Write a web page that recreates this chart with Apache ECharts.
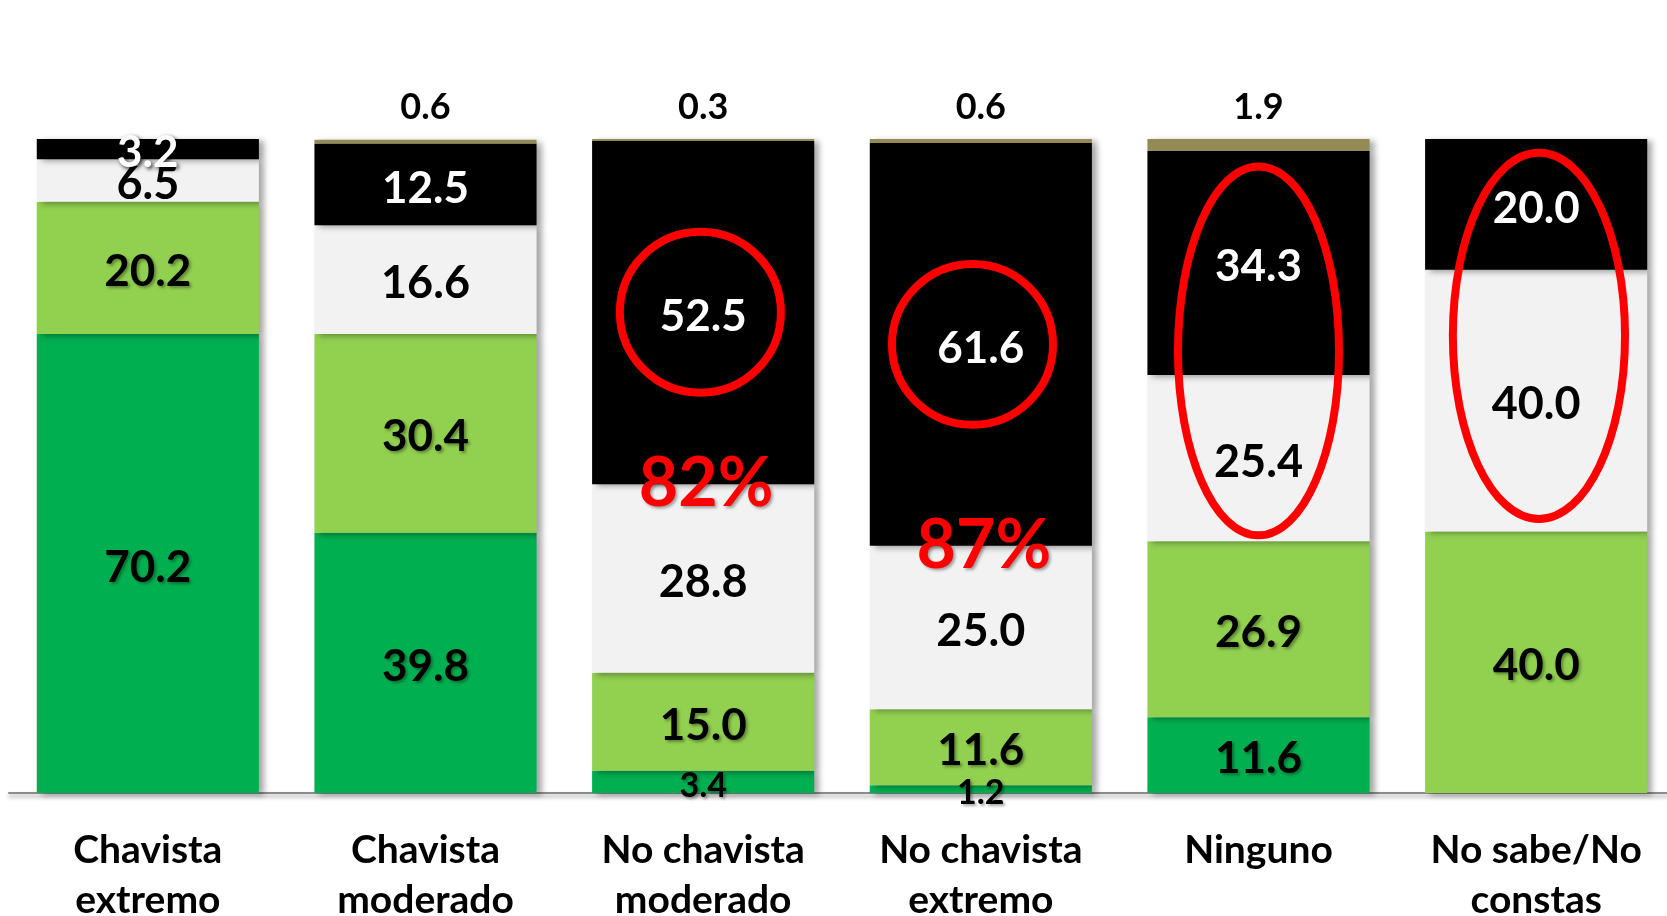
<!DOCTYPE html>
<html>
<head>
<meta charset="utf-8">
<title>Chavismo</title>
<script src="https://cdn.jsdelivr.net/npm/echarts@6/dist/echarts.min.js"></script>
<style>
  html, body { margin: 0; padding: 0; background: #fff; }
  #main { width: 1667px; height: 916px; }
</style>
</head>
<body>
<div id="main"></div>
<script>
  var categorias = ['Chavista\nextremo', 'Chavista\nmoderado', 'No chavista\nmoderado', 'No chavista\nextremo', 'Ninguno', 'No sabe/No\nconstas'];

  // segmentos de abajo hacia arriba
  var verdeOscuro = [70.2, 39.8, 3.4, 1.2, 11.6, 0];
  var verdeClaro  = [20.2, 30.4, 15.0, 11.6, 26.9, 40.0];
  var gris        = [6.5, 16.6, 28.8, 25.0, 25.4, 40.0];
  var negro       = [3.2, 12.5, 52.5, 61.6, 34.3, 20.0];
  var oliva       = [0, 0.6, 0.3, 0.6, 1.9, 0];

  // textos rojos y marcas de resaltado
  var porcentajes = [
    { cat: 2, texto: '82%' },
    { cat: 3, texto: '87%' }
  ];
  var resaltados = [
    { cat: 2, centro: 73.5, dx: -0.01, rx: 0.29, ry: 12.3 },
    { cat: 3, centro: 68.6, dx: -0.03, rx: 0.29, ry: 12.3 },
    { cat: 4, centro: 67.6, dx: 0, rx: 0.29, ry: 28.2 },
    { cat: 5, centro: 69.9, dx: 0.01, rx: 0.31, ry: 28.0 }
  ];

  var fuente = 'Lato';
  var sombraBarra = {
    shadowColor: 'rgba(0,0,0,0.35)',
    shadowBlur: 6,
    shadowOffsetX: 5,
    shadowOffsetY: 2
  };

  function fmt(p) {
    return p.value ? p.value.toFixed(1) : '';
  }

  function serie(nombre, datos, color, etiqueta, chica) {
    return {
      name: nombre,
      type: 'bar',
      stack: 'total',
      barCategoryGap: '20%',
      data: datos.map(function (v) {
        if (chica && v > 0 && v < 5) {
          return { value: v, label: { fontSize: 34 } };
        }
        return v;
      }),
      itemStyle: Object.assign({ color: color }, sombraBarra),
      label: Object.assign({
        show: true,
        position: 'inside',
        offset: [0, 4],
        formatter: fmt,
        fontFamily: fuente,
        fontSize: 44
      }, etiqueta)
    };
  }

  var etiquetaNegra = {
    color: '#000',
    fontWeight: 'bold',
    textShadowColor: 'rgba(0,0,0,0.35)',
    textShadowBlur: 3,
    textShadowOffsetX: 2,
    textShadowOffsetY: 2
  };

  var myChart = echarts.init(document.getElementById('main'));
  myChart.setOption({
    animation: false,
    grid: { left: 9, top: 139, width: 1666, height: 654, containLabel: false, outerBoundsMode: 'none' },
    xAxis: {
      type: 'category',
      data: categorias,
      axisTick: { show: false },
      axisLine: {
        lineStyle: {
          color: '#8c8c8c',
          width: 2,
          shadowColor: 'rgba(0,0,0,0.4)',
          shadowBlur: 4,
          shadowOffsetY: 3
        }
      },
      axisLabel: {
        interval: 0,
        margin: 32,
        color: '#000',
        fontFamily: fuente,
        fontWeight: 'bold',
        fontSize: 39,
        lineHeight: 50
      }
    },
    yAxis: { type: 'value', min: 0, max: 100, show: false },
    series: [
      serie('s1', verdeOscuro, '#00B050', etiquetaNegra, true),
      serie('s2', verdeClaro, '#92D050', etiquetaNegra),
      serie('s3', gris, '#F2F2F2', { color: '#000', fontWeight: 'bold', fontSize: 45 }),
      serie('s4', negro, '#000000', {
        color: '#fff',
        fontWeight: 'bold',
        textShadowColor: 'rgba(0,0,0,0.85)',
        textShadowBlur: 4,
        textShadowOffsetX: 2,
        textShadowOffsetY: 2
      }),
      serie('s5', oliva, '#948A54', {
        position: 'top',
        offset: [0, 0],
        distance: 14,
        color: '#000',
        fontWeight: 'bold',
        fontSize: 36
      })
    ]
  });

  // anotaciones en rojo, ubicadas con las escalas del grafico
  function dibujarAnotaciones() {
    var banda = myChart.convertToPixel({ gridIndex: 0 }, [1, 0])[0] - myChart.convertToPixel({ gridIndex: 0 }, [0, 0])[0];
    var elementos = [];
    resaltados.forEach(function (r) {
      var c = myChart.convertToPixel({ gridIndex: 0 }, [r.cat, r.centro]);
      var arriba = myChart.convertToPixel({ gridIndex: 0 }, [r.cat, r.centro + r.ry]);
      elementos.push({
        type: 'ellipse',
        z: 100,
        shape: { cx: c[0] + banda * r.dx, cy: c[1], rx: banda * r.rx, ry: c[1] - arriba[1] },
        style: { fill: 'none', stroke: '#FF0000', lineWidth: 8 }
      });
    });
    porcentajes.forEach(function (p) {
      var base = verdeOscuro[p.cat] + verdeClaro[p.cat] + gris[p.cat];
      var pos = myChart.convertToPixel({ gridIndex: 0 }, [p.cat, base]);
      elementos.push({
        type: 'text',
        z: 101,
        x: pos[0] + 3,
        y: pos[1],
        style: {
          text: p.texto,
          fill: '#FF0000',
          font: 'bold 68px ' + fuente,
          align: 'center',
          verticalAlign: 'middle',
          textShadowColor: 'rgba(0,0,0,0.35)',
          textShadowBlur: 3,
          textShadowOffsetX: 2,
          textShadowOffsetY: 2
        }
      });
    });
    myChart.setOption({ graphic: elementos });
  }
  dibujarAnotaciones();
</script>
</body>
</html>
